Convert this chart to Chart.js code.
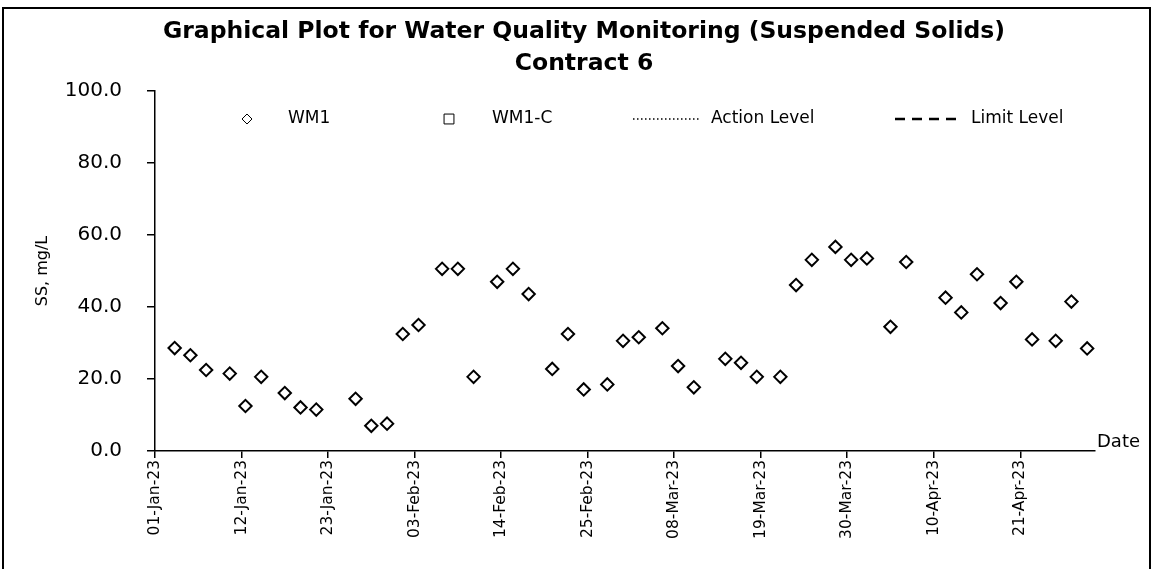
<!DOCTYPE html>
<html>
<head>
<meta charset="utf-8">
<script src="https://cdn.jsdelivr.net/npm/chart.js@4.4.1/dist/chart.umd.min.js"></script>
<style>
  html, body { margin: 0; padding: 0; background: #fff; }
  #wrap { position: relative; width: 1152px; height: 569px; overflow: hidden; }
  #frame { position: absolute; left: 2px; top: 7px; width: 1145px; height: 700px; border: 2px solid #000; }
  #c { position: absolute; left: 0; top: 0; }
</style>
</head>
<body>
<div id="wrap">
  <div id="frame"></div>
  <canvas id="c" width="1152" height="569"></canvas>
</div>
<script>
// ---- Data ----
const titleLines = ['Graphical Plot for Water Quality Monitoring (Suspended Solids)', 'Contract 6'];
const yAxisTitle = 'SS, mg/L';
const xAxisTitle = 'Date';
const startDate = '01-Jan-23';
const endDate = '01-May-23';
const xTickLabels = ['01-Jan-23','12-Jan-23','23-Jan-23','03-Feb-23','14-Feb-23','25-Feb-23','08-Mar-23','19-Mar-23','30-Mar-23','10-Apr-23','21-Apr-23'];
const yTickValues = [0, 20, 40, 60, 80, 100];
const sampleDates = ['03-Jan-23','05-Jan-23','07-Jan-23','10-Jan-23','12-Jan-23','14-Jan-23','17-Jan-23','19-Jan-23','21-Jan-23','26-Jan-23','28-Jan-23','30-Jan-23',
  '01-Feb-23','03-Feb-23','06-Feb-23','08-Feb-23','10-Feb-23','13-Feb-23','15-Feb-23','17-Feb-23','20-Feb-23','22-Feb-23','24-Feb-23','27-Feb-23',
  '01-Mar-23','03-Mar-23','06-Mar-23','08-Mar-23','10-Mar-23','14-Mar-23','16-Mar-23','18-Mar-23','21-Mar-23','23-Mar-23','25-Mar-23','28-Mar-23','30-Mar-23',
  '01-Apr-23','04-Apr-23','06-Apr-23','11-Apr-23','13-Apr-23','15-Apr-23','18-Apr-23','20-Apr-23','22-Apr-23','25-Apr-23','27-Apr-23','29-Apr-23'];
const wm1Values = [28.6,26.6,22.5,21.5,12.5,20.6,16.1,12.1,11.5,14.5,7.0,7.6,
  32.5,35.0,50.6,50.6,20.6,47.0,50.6,43.6,22.8,32.5,17.1,18.5,
  30.6,31.6,34.1,23.6,17.7,25.6,24.5,20.6,20.6,46.1,53.1,56.7,53.1,
  53.5,34.5,52.5,42.6,38.5,49.1,41.1,47.0,31.0,30.6,41.5,28.5];
const wm1cValues = [];
const actionLevel = [];
const limitLevel = [];
const seriesNames = ['WM1', 'WM1-C', 'Action Level', 'Limit Level'];

// ---- Helpers ----
const MONTHS = {Jan:0,Feb:1,Mar:2,Apr:3,May:4,Jun:5,Jul:6,Aug:7,Sep:8,Oct:9,Nov:10,Dec:11};
function toDay(s) {
  const [d, m, y] = s.split('-');
  const t = Date.UTC(2000 + (+y), MONTHS[m], +d);
  const [d0, m0, y0] = startDate.split('-');
  const t0 = Date.UTC(2000 + (+y0), MONTHS[m0], +d0);
  return Math.round((t - t0) / 86400000);
}
// points are centred in their day slot (date axis, between tick marks)
const wm1Points = sampleDates.map((d, i) => ({x: toDay(d) + 0.5, y: wm1Values[i]}));

const FONT = '"DejaVu Sans", sans-serif';

// custom legend drawn inside plot area
const legendPlugin = {
  id: 'insideLegend',
  afterDraw(chart) {
    const ctx = chart.ctx;
    const ca = chart.chartArea;
    const y = ca.top + 28;
    const symX = [247, 449, 633, 895];
    const symW = [0, 0, 66, 67];
    const txtX = [288, 492, 711, 971];
    ctx.save();
    chart.data.datasets.forEach((ds, i) => {
      ctx.save();
      ctx.strokeStyle = '#000';
      ctx.fillStyle = '#fff';
      if (ds.type === 'line') {
        ctx.lineWidth = ds.borderWidth;
        ctx.setLineDash(ds.borderDash || []);
        ctx.beginPath();
        ctx.moveTo(symX[i], y);
        ctx.lineTo(symX[i] + symW[i], y);
        ctx.stroke();
      } else {
        Chart.helpers.drawPoint(ctx, {
          pointStyle: ds.pointStyle,
          radius: ds.pointStyle === 'rect' ? 7 : 5,
          borderWidth: 2, rotation: 0
        }, symX[i], y);
      }
      ctx.restore();
      ctx.fillStyle = '#000';
      ctx.font = '17px ' + FONT;
      ctx.textAlign = 'left';
      ctx.textBaseline = 'middle';
      ctx.fillText(ds.label, txtX[i], y);
    });
    // x axis title at the right end of the axis
    ctx.font = '18px ' + FONT;
    ctx.fillStyle = '#000';
    ctx.textAlign = 'left';
    ctx.textBaseline = 'middle';
    ctx.fillText(xAxisTitle, ca.right + 2, ca.bottom - 9);
    ctx.restore();
  }
};

new Chart(document.getElementById('c'), {
  type: 'scatter',
  data: {
    datasets: [
      { type: 'scatter', label: seriesNames[0], data: wm1Points, pointStyle: 'rectRot', pointRadius: 6.2, pointHoverRadius: 6.2,
        borderColor: '#000', backgroundColor: '#fff', pointBorderWidth: 2, borderWidth: 2 },
      { type: 'scatter', label: seriesNames[1], data: wm1cValues, pointStyle: 'rect', pointRadius: 6,
        borderColor: '#000', backgroundColor: '#fff', borderWidth: 2 },
      { type: 'line', label: seriesNames[2], data: actionLevel, borderColor: '#000', borderWidth: 1.5, borderDash: [1.5, 2.5], pointRadius: 0, fill: false },
      { type: 'line', label: seriesNames[3], data: limitLevel, borderColor: '#000', borderWidth: 2.5, borderDash: [10, 7], pointRadius: 0, fill: false }
    ]
  },
  options: {
    responsive: false,
    animation: false,
    devicePixelRatio: 1,
    layout: { padding: { left: 16, right: 0, top: 0, bottom: 0 } },
    plugins: {
      legend: { display: false },
      tooltip: { enabled: false },
      title: {
        display: true,
        text: titleLines,
        color: '#000',
        font: { family: FONT, size: 23.5, weight: 'bold', lineHeight: 32 / 23.5 },
        padding: { top: 16, bottom: 11 }
      }
    },
    scales: {
      x: {
        type: 'linear',
        min: toDay(startDate),
        max: toDay(endDate) - 0.5,
        border: { color: '#000', width: 1.5 },
        grid: { display: true, drawOnChartArea: false, drawTicks: true, tickLength: 7, color: '#000', lineWidth: 1.5 },
        afterBuildTicks: (scale) => { scale.ticks = xTickLabels.map(l => ({ value: toDay(l) })); },
        afterFit: (scale) => { scale.height = 118; },
        ticks: {
          autoSkip: false, maxRotation: 90, minRotation: 90, padding: 2,
          color: '#000', font: { family: FONT, size: 15.5 },
          callback: (v, i) => xTickLabels[i]
        }
      },
      y: {
        type: 'linear',
        min: 0, max: 100,
        border: { color: '#000', width: 1.5 },
        grid: { display: true, drawOnChartArea: false, drawTicks: true, tickLength: 8, color: '#000', lineWidth: 1.5 },
        afterBuildTicks: (scale) => { scale.ticks = yTickValues.map(v => ({ value: v })); },
        afterFit: (scale) => { scale.width = 139; },
        ticks: { padding: 25, color: '#000', font: { family: FONT, size: 20 }, callback: (v) => Number(v).toFixed(1) },
        title: { display: true, text: yAxisTitle, color: '#000', font: { family: FONT, size: 16 }, padding: { top: 17, bottom: 0 } }
      },
      yRight: {
        type: 'linear', position: 'right', display: true,
        border: { display: false }, grid: { display: false }, ticks: { display: false },
        afterFit: (scale) => { scale.width = 57; }
      }
    }
  },
  plugins: [legendPlugin]
});
</script>
</body>
</html>
